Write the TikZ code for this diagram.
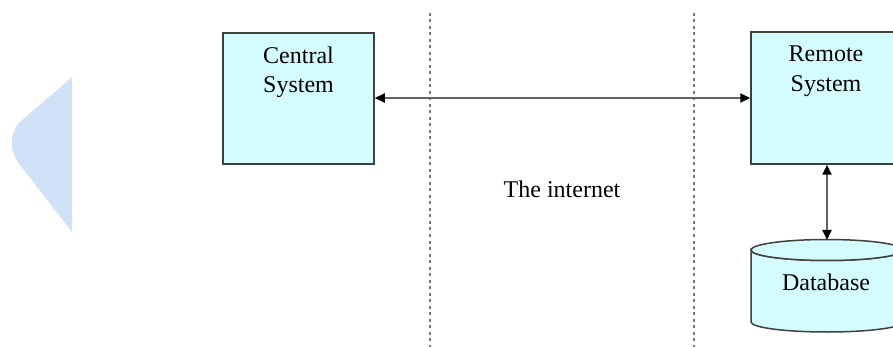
\documentclass[tikz,border=0pt]{standalone}
\usepackage{fontspec}
\setmainfont{Liberation Serif}
\usetikzlibrary{arrows.meta}
\definecolor{boxfill}{RGB}{212,252,254}
\definecolor{boxline}{RGB}{64,64,64}
\definecolor{lineg}{RGB}{100,100,100}
\definecolor{dashg}{RGB}{120,120,120}
\definecolor{deco}{RGB}{207,226,247}
\tikzset{
  sysbox/.style={draw=boxline, line width=1.5pt, fill=boxfill, inner sep=0pt},
  lbl/.style={inner sep=0pt, align=center, font=\fontsize{24}{29.5}\selectfont},
  link/.style={draw=lineg, line width=2pt, {Triangle[length=10pt,width=9pt,color=black]}-{Triangle[length=10pt,width=9pt,color=black]}},
  zone/.style={draw=dashg, line width=2pt, dash pattern=on 3pt off 3.5pt}
}
\begin{document}
\begin{tikzpicture}[x=1pt,y=-1pt]
\useasboundingbox (0,0) rectangle (893,347);
\clip (0,0) rectangle (893,347);
% decorative shape on the left
\fill[deco] (72,77) -- (20,122) .. controls (9,133) and (9,152) .. (20,165) -- (72,232) -- cycle;
% zone separators
\draw[zone] (430,13) -- (430,347);
\draw[zone] (694,13) -- (694,347);
% systems
\node[sysbox, minimum width=151pt, minimum height=131pt] (central) at (298.5,98.5) {};
\node[lbl, anchor=north] (centraltext) at (298.5,46.5) {Central\\System};
\node[sysbox, minimum width=152pt, minimum height=132pt] (remote) at (827,98) {};
\node[lbl, anchor=north] (remotetext) at (826,46) {Remote\\System};
% database cylinder
\coordinate (dbtop) at (827,240);
\filldraw[draw=boxline, line width=1.5pt, fill=boxfill]
  (751,250) arc[start angle=180, end angle=360, x radius=76pt, y radius=10.5pt]
  -- (903,322) arc[start angle=0, end angle=-180, x radius=76pt, y radius=10pt] -- cycle;
\filldraw[draw=boxline, line width=1.5pt, fill=boxfill]
  (827,250) ellipse[x radius=76pt, y radius=10.5pt];
\node[lbl, anchor=base] (db) at (826,290) {Database};
\node[lbl, anchor=base] (net) at (562,198) {The internet};
% connectors
\draw[link] (central.east |- 0,98) -- (remote.west |- 0,98);
\draw[link] (remote.south -| dbtop) -- (dbtop);
\end{tikzpicture}
\end{document}
